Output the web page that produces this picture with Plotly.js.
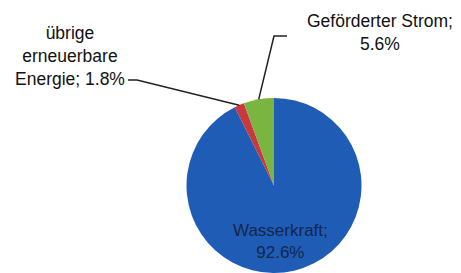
<!DOCTYPE html>
<html>
<head>
<meta charset="utf-8">
<script src="https://cdn.plot.ly/plotly-3.0.1.min.js"></script>
<style>html,body{margin:0;padding:0;background:#fff;}#chart{width:461px;height:273px;}</style>
</head>
<body>
<div id="chart"></div>
<script>
// slices listed clockwise from 12 o'clock
const labels = ['Wasserkraft', 'übrige erneuerbare Energie', 'Geförderter Strom'];
const values = [92.6, 1.8, 5.6];
const colors = ['#1f5cb6', '#c8383c', '#7ab441'];
const labelTexts = [
  'Wasserkraft;<br>92.6%',
  'übrige<br>erneuerbare<br>Energie; 1.8%',
  'Geförderter Strom;<br>5.6%'
];

const W = 461, H = 273;
const cx = 274, cy = 185.5, r = 87.5;
const px = x => x / W;
const py = y => 1 - y / H;

// point on pie rim at the middle of slice i (clockwise from 12 o'clock)
const total = values.reduce((a, b) => a + b, 0);
function rimPoint(i) {
  let cum = 0;
  for (let k = 0; k < i; k++) cum += values[k];
  const a = ((cum + values[i] / 2) / total) * 2 * Math.PI;
  return [cx + r * Math.sin(a), cy - r * Math.cos(a)];
}
const red = rimPoint(1), green = rimPoint(2);

const baseFont = {family: 'Liberation Sans, Arial, sans-serif', size: 17.5, color: '#111'};
const innerFont = {family: 'Liberation Sans, Arial, sans-serif', size: 17, color: '#14264a'};

function ann(text, x, y, font) {
  return {text: text, x: px(x), y: py(y), xref: 'paper', yref: 'paper',
          xanchor: 'center', yanchor: 'middle', align: 'center',
          showarrow: false, font: font};
}

const annotations = [
  ann(labelTexts[0], 280, 241, innerFont),
  ann(labelTexts[1], 70, 56, baseFont),
  ann(labelTexts[2], 380, 32, baseFont)
];

const data = [{
  type: 'pie',
  labels: labels,
  values: values,
  sort: false,
  direction: 'clockwise',
  rotation: 0,
  textinfo: 'none',
  hoverinfo: 'none',
  marker: {colors: colors, line: {width: 0}},
  domain: {x: [(cx - r) / W, (cx + r) / W], y: [0, (2 * r) / H]},
  showlegend: false
}];

const layout = {
  width: W, height: H,
  margin: {l: 0, r: 0, t: 0, b: 0},
  paper_bgcolor: '#fff',
  showlegend: false,
  annotations: annotations,
  shapes: [
    {type: 'path', xref: 'paper', yref: 'paper',
     path: `M ${px(green[0])},${py(green[1])} L ${px(274)},${py(36)} L ${px(287)},${py(36)}`,
     line: {color: '#222', width: 1.5}},
    {type: 'path', xref: 'paper', yref: 'paper',
     path: `M ${px(red[0])},${py(red[1])} L ${px(137)},${py(80)} L ${px(128)},${py(80)}`,
     line: {color: '#222', width: 1.5}}
  ]
};

Plotly.newPlot('chart', data, layout, {staticPlot: true, displayModeBar: false});
</script>
</body>
</html>
